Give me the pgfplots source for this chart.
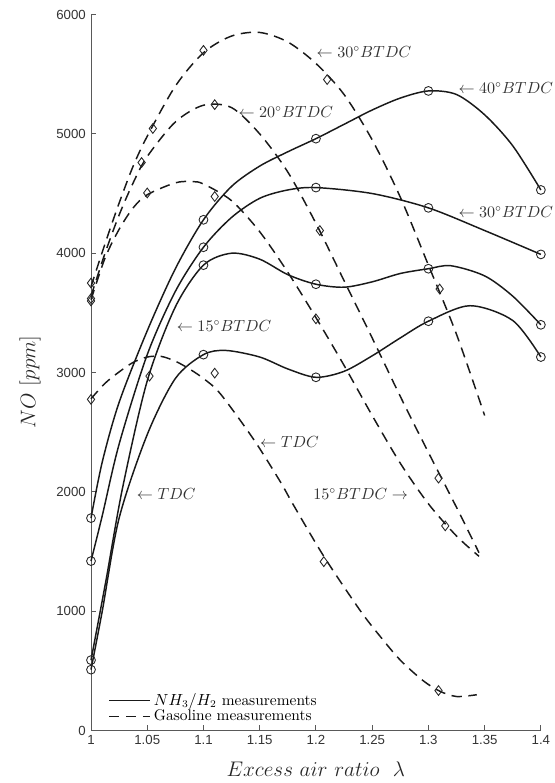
\documentclass[border=0pt]{standalone}
\usepackage{fontspec}
\setsansfont{Liberation Sans}
\usepackage{pgfplots}
\pgfplotsset{compat=1.18}
\begin{document}
\begin{tikzpicture}
\begin{axis}[
  scale only axis, width=306pt, height=487pt,
  xmin=1, xmax=1.4, ymin=0, ymax=6000, clip=false,
  axis x line*=bottom, axis y line*=left,
  axis line style={black!65, line width=0.6pt},
  tick style={black!65, line width=0.6pt},
  tick align=inside, major tick length=3.5pt,
  xtick={1,1.05,1.1,1.15,1.2,1.25,1.3,1.35,1.4},
  xticklabels={1,1.05,1.1,1.15,1.2,1.25,1.3,1.35,1.4},
  ytick={0,1000,2000,3000,4000,5000,6000},
  yticklabels={0,1000,2000,3000,4000,5000,6000},
  tick label style={font=\sffamily\fontsize{9}{10}\selectfont, text=black!80},
  xlabel={$Excess\ air\ ratio\ \ \lambda$},
  ylabel={$NO\ [ppm]$},
  xlabel style={font=\fontsize{14}{16}\selectfont, at={(axis description cs:0.5,-0.0545)}, anchor=center, text=black!85},
  ylabel style={font=\fontsize{14}{16}\selectfont, at={(axis description cs:-0.1356,0.487)}, anchor=center, text=black!85},
  legend style={at={(axis description cs:0.038,0.006)}, anchor=south west, draw=none, fill=none,
    font=\fontsize{10.5}{12}\selectfont, inner sep=0pt, row sep=-2.5pt, cells={anchor=west}},
  legend image code/.code={\draw[#1] (0pt,0pt) -- (28pt,0pt);},
  every axis plot/.append style={line width=1pt},
]
% legend carriers (solid / dashed)
\addplot[black!90, smooth] coordinates {(1,1780) (1.01,2250) (1.025,2750) (1.05,3350) (1.075,3870) (1.1,4280) (1.125,4560) (1.15,4730) (1.175,4850) (1.2,4960) (1.225,5080) (1.25,5200) (1.275,5300) (1.3,5360) (1.325,5330) (1.35,5160) (1.375,4900) (1.4,4530)};
\addlegendentry{$NH_3/H_2$ measurements}
\addplot[black!90, smooth, dash pattern=on 7pt off 4.5pt] coordinates {(1,3720) (1.0125,4080) (1.025,4420) (1.0375,4730) (1.05,4980) (1.075,5400) (1.1,5680) (1.125,5820) (1.15,5850) (1.175,5770) (1.2,5590) (1.225,5330) (1.25,4950) (1.275,4470) (1.3,3900) (1.325,3320) (1.35,2640)};
\addlegendentry{Gasoline measurements}
% other NH3/H2 curves
\addplot[black!90, smooth, forget plot] coordinates {(1,1420) (1.01,1800) (1.025,2400) (1.05,3150) (1.075,3680) (1.1,4050) (1.125,4300) (1.15,4460) (1.175,4530) (1.2,4550) (1.25,4500) (1.3,4380) (1.35,4190) (1.4,3990)};
\addplot[black!90, smooth, forget plot] coordinates {(1,590) (1.0133,1257) (1.028,2030) (1.05,2930) (1.075,3550) (1.1,3900) (1.125,4000) (1.15,3950) (1.175,3820) (1.2,3740) (1.225,3715) (1.25,3760) (1.275,3830) (1.3,3870) (1.32,3895) (1.35,3810) (1.375,3640) (1.4,3400)};
\addplot[black!90, smooth, forget plot] coordinates {(1,510) (1.01,1000) (1.025,1780) (1.05,2480) (1.075,2950) (1.1,3150) (1.12,3185) (1.15,3130) (1.175,3030) (1.2,2960) (1.225,3010) (1.25,3140) (1.275,3290) (1.3,3430) (1.337,3560) (1.375,3436) (1.4,3130)};
% other gasoline curves
\addplot[black!90, smooth, dash pattern=on 7pt off 4.5pt, forget plot] coordinates {(1,3640) (1.0125,4000) (1.025,4320) (1.0375,4590) (1.05,4810) (1.075,5100) (1.1,5240) (1.125,5220) (1.15,5000) (1.175,4680) (1.2,4250) (1.225,3770) (1.25,3290) (1.275,2800) (1.3,2330) (1.325,1870) (1.345,1490)};
\addplot[black!90, smooth, dash pattern=on 7pt off 4.5pt, forget plot] coordinates {(1,3610) (1.0125,3960) (1.025,4200) (1.0375,4380) (1.05,4490) (1.075,4590) (1.09,4600) (1.1,4580) (1.125,4440) (1.15,4180) (1.175,3840) (1.2,3460) (1.225,3060) (1.25,2640) (1.275,2240) (1.3,1900) (1.325,1630) (1.345,1460)};
\addplot[black!90, smooth, dash pattern=on 7pt off 4.5pt, forget plot] coordinates {(1,2780) (1.0125,2910) (1.025,3005) (1.0375,3085) (1.05,3130) (1.0625,3135) (1.075,3095) (1.0875,3030) (1.1,2950) (1.115,2822) (1.1443,2444) (1.168,2090) (1.18,1890) (1.207,1460) (1.239,1010) (1.257,790) (1.275,590) (1.295,420) (1.31,330) (1.325,285) (1.343,300)};
% NH3/H2 measured points
\addplot[only marks, mark=o, mark size=3pt, black!85, line width=0.6pt, forget plot] coordinates {(1,1780) (1.1,4280) (1.2,4960) (1.3,5360) (1.4,4530)};
\addplot[only marks, mark=o, mark size=3pt, black!85, line width=0.6pt, forget plot] coordinates {(1,1420) (1.1,4050) (1.2,4550) (1.3,4380) (1.4,3990)};
\addplot[only marks, mark=o, mark size=3pt, black!85, line width=0.6pt, forget plot] coordinates {(1,590) (1.1,3900) (1.2,3740) (1.3,3870) (1.4,3400)};
\addplot[only marks, mark=o, mark size=3pt, black!85, line width=0.6pt, forget plot] coordinates {(1,510) (1.1,3150) (1.2,2960) (1.3,3430) (1.4,3130)};
% gasoline measured points
\addplot[only marks, mark=diamond, mark size=3.3pt, black!85, line width=0.6pt, forget plot] coordinates {(1,3750) (1.055,5045) (1.1,5700) (1.21,5455) (1.31,3700)};
\addplot[only marks, mark=diamond, mark size=3.3pt, black!85, line width=0.6pt, forget plot] coordinates {(1,3620) (1.045,4760) (1.11,5245) (1.2035,4190) (1.309,2115)};
\addplot[only marks, mark=diamond, mark size=3.3pt, black!85, line width=0.6pt, forget plot] coordinates {(1,3600) (1.05,4505) (1.11,4475) (1.2,3450) (1.315,1715)};
\addplot[only marks, mark=diamond, mark size=3.3pt, black!85, line width=0.6pt, forget plot] coordinates {(1,2775) (1.052,2970) (1.11,2995) (1.207,1415) (1.309,335)};
% annotations
\begin{scope}[every node/.style={font=\fontsize{10.7}{12}\selectfont, text=black!80, inner sep=0pt}]
\node[anchor=west] at (axis cs:1.2004,5687) {$\leftarrow 30^\circ BTDC$};
\node[anchor=west] at (axis cs:1.1309,5186) {$\leftarrow 20^\circ BTDC$};
\node[anchor=west] at (axis cs:1.3265,5386) {$\leftarrow 40^\circ BTDC$};
\node[anchor=west] at (axis cs:1.3265,4344) {$\leftarrow 30^\circ BTDC$};
\node[anchor=west] at (axis cs:1.0761,3394) {$\leftarrow 15^\circ BTDC$};
\node[anchor=west] at (axis cs:1.1502,2416) {$\leftarrow TDC$};
\node[anchor=west] at (axis cs:1.0406,1983) {$\leftarrow TDC$};
\node[anchor=east] at (axis cs:1.282,1983) {$15^\circ BTDC \rightarrow$};
\end{scope}
\end{axis}
\path ([shift={(-61.9pt,-35.7pt)}]current axis.south west) rectangle ([shift={(7.5pt,9.9pt)}]current axis.north east);
\end{tikzpicture}
\end{document}
